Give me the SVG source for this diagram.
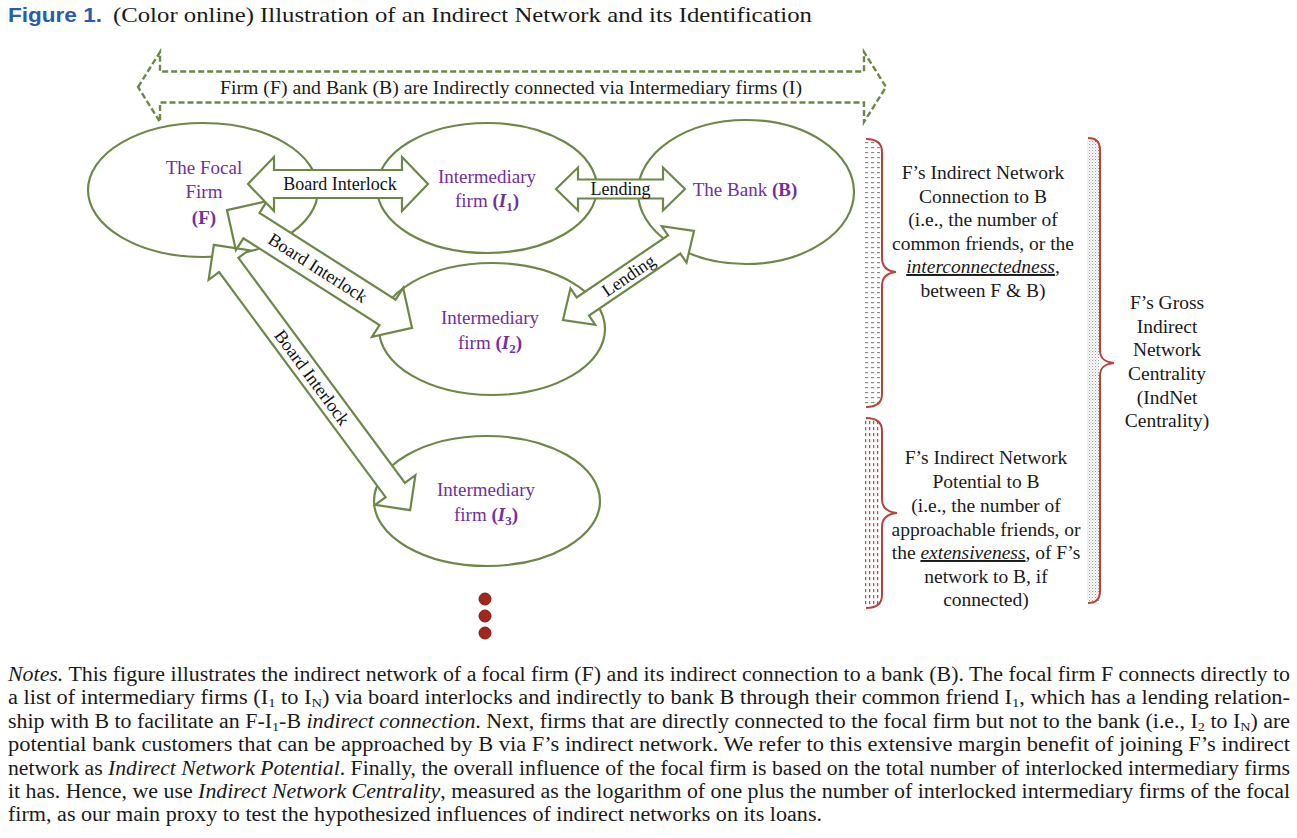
<svg xmlns="http://www.w3.org/2000/svg" width="1297" height="838" viewBox="0 0 1297 838">
<defs>
<style>
.ell{fill:#fff;stroke:#6e8748;stroke-width:2.2}
.blk{fill:#fff;stroke:#6e8748;stroke-width:2.2;stroke-linejoin:miter}
.dash{fill:none;stroke:#6e8748;stroke-width:2.4;stroke-dasharray:6 3}
.serif{font-family:Liberation Serif, Times New Roman, serif}
.nt{font-family:Liberation Serif, Times New Roman, serif;font-size:19px;fill:#7030a0;text-anchor:middle}
.lbl{font-family:Liberation Serif, Times New Roman, serif;font-size:18px;fill:#111;text-anchor:middle}
.bt{font-family:Liberation Serif, Times New Roman, serif;font-size:19.5px;fill:#1a1a1a;text-anchor:middle}
.brace{fill:none;stroke:#b8433b;stroke-width:2}
.note{font-family:Liberation Serif, Times New Roman, serif;font-size:20px;fill:#1a1a1a}
.b{font-weight:bold}
.i{font-style:italic}
.sub{font-size:13px}
</style>
<pattern id="pGrayDash" width="6" height="5" patternUnits="userSpaceOnUse"><rect x="1" y="2" width="3.2" height="1.2" fill="#8a8a8a"/></pattern>
<pattern id="pRedDot" width="4" height="6" patternUnits="userSpaceOnUse"><rect x="1" y="1" width="1.3" height="3.2" fill="#c0504d"/></pattern>
<pattern id="pGrayFine" width="3" height="3" patternUnits="userSpaceOnUse"><rect width="1.1" height="1.1" fill="#9a9a9a"/><rect x="1.5" y="1.5" width="1.1" height="1.1" fill="#bdbdbd"/></pattern>
</defs>
<rect width="1297" height="838" fill="#fff"/>

<g id="title">
<text x="8" y="22" font-family="Liberation Sans, Arial, sans-serif" font-weight="bold" font-size="21px" fill="#2a5caa" textLength="94" lengthAdjust="spacingAndGlyphs">Figure 1.</text>
<text class="serif" x="113" y="22" font-size="21px" fill="#1a1a1a" textLength="699" lengthAdjust="spacingAndGlyphs">(Color online) Illustration of an Indirect Network and its Identification</text>
</g>

<g id="top-arrow">
<path class="dash" transform="translate(512,87)" d="M -374,0 L -352,-35 L -352,-15.5 L 352,-15.5 L 352,-35 L 374,0 L 352,35 L 352,15.5 L -352,15.5 L -352,35 Z"/>
<text class="serif" x="511" y="94" font-size="18.5px" fill="#1a1a1a" text-anchor="middle" textLength="582" lengthAdjust="spacingAndGlyphs">Firm (F) and Bank (B) are Indirectly connected via Intermediary firms (I)</text>
</g>

<g id="node-F">
<ellipse class="ell" cx="203" cy="190" rx="115" ry="67"/>
<text class="nt" x="204" y="174">The Focal</text>
<text class="nt" x="204" y="198">Firm</text>
<text class="nt b" x="204" y="224" font-size="20px">(F)</text>
</g>
<g id="node-I1">
<ellipse class="ell" cx="487" cy="188" rx="110" ry="65"/>
<text class="nt" x="487" y="183">Intermediary</text>
<text class="nt" x="487" y="207">firm <tspan class="b">(</tspan><tspan class="b i">I</tspan><tspan class="b sub" dy="4">1</tspan><tspan class="b" dy="-4">)</tspan></text>
</g>
<g id="node-B">
<ellipse class="ell" cx="746" cy="192" rx="108" ry="72"/>
<text class="nt" x="745" y="196">The Bank <tspan class="b">(B)</tspan></text>
</g>
<g id="node-I2">
<ellipse class="ell" cx="492" cy="329" rx="113" ry="66"/>
<text class="nt" x="490" y="324">Intermediary</text>
<text class="nt" x="490" y="349">firm <tspan class="b">(</tspan><tspan class="b i">I</tspan><tspan class="b sub" dy="4">2</tspan><tspan class="b" dy="-4">)</tspan></text>
</g>
<g id="node-I3">
<ellipse class="ell" cx="487" cy="501" rx="113" ry="65"/>
<text class="nt" x="486" y="496">Intermediary</text>
<text class="nt" x="486" y="521">firm <tspan class="b">(</tspan><tspan class="b i">I</tspan><tspan class="b sub" dy="4">3</tspan><tspan class="b" dy="-4">)</tspan></text>
</g>
<g id="node-more">
<circle cx="485" cy="599" r="6" fill="#a5261c" stroke="#7a1a12" stroke-width="1"/>
<circle cx="485" cy="616" r="6" fill="#a5261c" stroke="#7a1a12" stroke-width="1"/>
<circle cx="485" cy="633" r="6" fill="#a5261c" stroke="#7a1a12" stroke-width="1"/>
</g>

<g id="connectors">
<g transform="translate(312,377.5) rotate(53.5)">
<path class="blk" d="M -165,0 L -140,-25 L -140,-12 L 140,-12 L 140,-25 L 165,0 L 140,25 L 140,12 L -140,12 L -140,25 Z"/>
<text class="lbl" x="0" y="6">Board Interlock</text>
</g>
<g transform="translate(319.5,269) rotate(32.5)">
<path class="blk" d="M -109.7,0 L -80.7,-29 L -80.7,-15 L 80.7,-15 L 80.7,-29 L 109.7,0 L 80.7,29 L 80.7,15 L -80.7,15 L -80.7,29 Z"/>
<text class="lbl" x="-2" y="6">Board Interlock</text>
</g>
<g transform="translate(338,184)">
<path class="blk" d="M -90,0 L -64,-27 L -64,-14 L 64,-14 L 64,-27 L 90,0 L 64,27 L 64,14 L -64,14 L -64,27 Z"/>
<text class="lbl" x="2" y="6">Board Interlock</text>
</g>
<g transform="translate(620.5,189)">
<path class="blk" d="M -64.5,0 L -42.5,-21.5 L -42.5,-9.5 L 42.5,-9.5 L 42.5,-21.5 L 64.5,0 L 42.5,21.5 L 42.5,9.5 L -42.5,9.5 L -42.5,21.5 Z"/>
<text class="lbl" x="0" y="6" font-size="17.5px">Lending</text>
</g>
<g transform="translate(628.5,275.5) rotate(-34.2)">
<path class="blk" d="M -79.2,0 L -55.2,-22 L -55.2,-11 L 55.2,-11 L 55.2,-22 L 79.2,0 L 55.2,22 L 55.2,11 L -55.2,11 L -55.2,22 Z"/>
<text class="lbl" x="0" y="6" font-size="17.5px">Lending</text>
</g>
</g>

<g id="brace-connection">
<rect x="864" y="141" width="16" height="264" fill="url(#pGrayDash)"/>
<path class="brace" d="M 866,139 C 876,139 882,143 882,152 L 882,258 C 882,266 886,271 896,272 C 886,273 882,278 882,286 L 882,394 C 882,403 876,407 866,407"/>
<text class="bt" x="983" y="179">F’s Indirect Network</text>
<text class="bt" x="983" y="202.5">Connection to B</text>
<text class="bt" x="983" y="226">(i.e., the number of</text>
<text class="bt" x="983" y="249.5">common friends, or the</text>
<text class="bt" x="983" y="273"><tspan class="i" text-decoration="underline">interconnectedness</tspan>,</text>
<text class="bt" x="983" y="296.5">between F &amp; B)</text>
</g>

<g id="brace-potential">
<rect x="864" y="420" width="16" height="186" fill="url(#pRedDot)"/>
<path class="brace" d="M 866,418 C 876,418 882,422 882,431 L 882,499 C 882,507 886,512 897,513 C 886,514 882,519 882,527 L 882,595 C 882,604 876,608 866,608"/>
<text class="bt" x="986" y="464">F’s Indirect Network</text>
<text class="bt" x="986" y="488">Potential to B</text>
<text class="bt" x="986" y="512">(i.e., the number of</text>
<text class="bt" x="986" y="536">approachable friends, or</text>
<text class="bt" x="986" y="559">the <tspan class="i" text-decoration="underline">extensiveness</tspan>, of F’s</text>
<text class="bt" x="986" y="583">network to B, if</text>
<text class="bt" x="986" y="606">connected)</text>
</g>

<g id="brace-centrality">
<rect x="1087" y="140" width="12" height="461" fill="url(#pGrayFine)"/>
<path class="brace" d="M 1088,138 C 1096,138 1100,142 1100,150 L 1100,350 C 1100,358 1104,362 1114,363 C 1104,364 1100,368 1100,376 L 1100,591 C 1100,599 1096,603 1088,603"/>
<text class="bt" x="1167" y="309">F’s Gross</text>
<text class="bt" x="1167" y="333">Indirect</text>
<text class="bt" x="1167" y="356">Network</text>
<text class="bt" x="1167" y="380">Centrality</text>
<text class="bt" x="1167" y="404">(IndNet</text>
<text class="bt" x="1167" y="427">Centrality)</text>
</g>

<g id="notes">
<text class="note" x="8" y="681" textLength="1282" lengthAdjust="spacingAndGlyphs"><tspan class="i">Notes.</tspan>  This figure illustrates the indirect network of a focal firm (F) and its indirect connection to a bank (B). The focal firm F connects directly to</text>
<text class="note" x="8" y="704.4" textLength="1282" lengthAdjust="spacingAndGlyphs">a list of intermediary firms (I<tspan class="sub" dy="3">1</tspan><tspan dy="-3"> to I</tspan><tspan class="sub" dy="3">N</tspan><tspan dy="-3">) via board interlocks and indirectly to bank B through their common friend I</tspan><tspan class="sub" dy="3">1</tspan><tspan dy="-3">, which has a lending relation-</tspan></text>
<text class="note" x="8" y="727.8" textLength="1282" lengthAdjust="spacingAndGlyphs">ship with B to facilitate an F-I<tspan class="sub" dy="3">1</tspan><tspan dy="-3">-B </tspan><tspan class="i">indirect connection</tspan>. Next, firms that are directly connected to the focal firm but not to the bank (i.e., I<tspan class="sub" dy="3">2</tspan><tspan dy="-3"> to I</tspan><tspan class="sub" dy="3">N</tspan><tspan dy="-3">) are</tspan></text>
<text class="note" x="8" y="751.2" textLength="1282" lengthAdjust="spacingAndGlyphs">potential bank customers that can be approached by B via F’s indirect network. We refer to this extensive margin benefit of joining F’s indirect</text>
<text class="note" x="8" y="774.6" textLength="1282" lengthAdjust="spacingAndGlyphs">network as <tspan class="i">Indirect Network Potential</tspan>. Finally, the overall influence of the focal firm is based on the total number of interlocked intermediary firms</text>
<text class="note" x="8" y="798" textLength="1282" lengthAdjust="spacingAndGlyphs">it has. Hence, we use <tspan class="i">Indirect Network Centrality</tspan>, measured as the logarithm of one plus the number of interlocked intermediary firms of the focal</text>
<text class="note" x="8" y="821.4" textLength="814" lengthAdjust="spacingAndGlyphs">firm, as our main proxy to test the hypothesized influences of indirect networks on its loans.</text>
</g>
</svg>
